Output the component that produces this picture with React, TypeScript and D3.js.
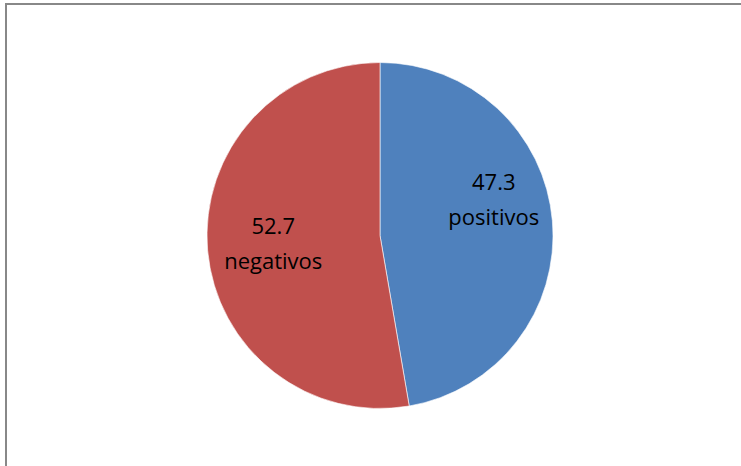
import * as d3 from 'd3'
import { useEffect, useRef } from 'react'

const labels = ['positivos', 'negativos']
const values = [47.3, 52.7]
const colors = ['#4F81BD', '#C0504D']

// label nudges (px) relative to arc centroid, to first baseline
const labelShift = [
    [0, -36],
    [7, -11],
]

export default function App() {
    const svgRef = useRef<SVGSVGElement>(null)
    const width = 741
    const height = 466

    useEffect(() => {
        if (!svgRef.current) return
        const svg = d3.select(svgRef.current)
        svg.selectAll('*').remove()

        // chart frame
        svg.append('rect')
            .attr('x', 6)
            .attr('y', 4)
            .attr('width', 800)
            .attr('height', 600)
            .attr('fill', '#fff')
            .attr('stroke', '#888')
            .attr('stroke-width', 2)

        const cx = 380
        const cy = 235.5
        const r = 173

        const g = svg.append('g').attr('transform', `translate(${cx},${cy})`)

        const pie = d3
            .pie<number>()
            .sort(null)
            .value((d) => d)
        const arcs = pie(values)

        const arc = d3.arc<d3.PieArcDatum<number>>().innerRadius(0).outerRadius(r)
        const labelArc = d3
            .arc<d3.PieArcDatum<number>>()
            .innerRadius(r * 0.66)
            .outerRadius(r * 0.66)

        g.selectAll('path')
            .data(arcs)
            .enter()
            .append('path')
            .attr('d', arc)
            .attr('fill', (_, i) => colors[i])
            .attr('stroke', '#fff')
            .attr('stroke-width', 0.6)

        const txt = g
            .selectAll('text')
            .data(arcs)
            .enter()
            .append('text')
            .attr('transform', (d, i) => {
                const [x, y] = labelArc.centroid(d)
                return `translate(${x + labelShift[i][0]},${y + labelShift[i][1]})`
            })
            .attr('text-anchor', 'middle')
            .style('font-family', '"Open Sans", sans-serif')
            .style('font-size', '22px')
            .attr('fill', '#000')

        txt.append('tspan')
            .attr('x', 0)
            .attr('dy', 0)
            .text((d) => String(d.data))
        txt.append('tspan')
            .attr('x', 0)
            .attr('dy', 35)
            .text((_, i) => labels[i])
    }, [])

    return (
        <div style={{ position: 'absolute', left: 0, top: 0 }}>
            <svg ref={svgRef} width={width} height={height} style={{ display: 'block' }} />
        </div>
    )
}
